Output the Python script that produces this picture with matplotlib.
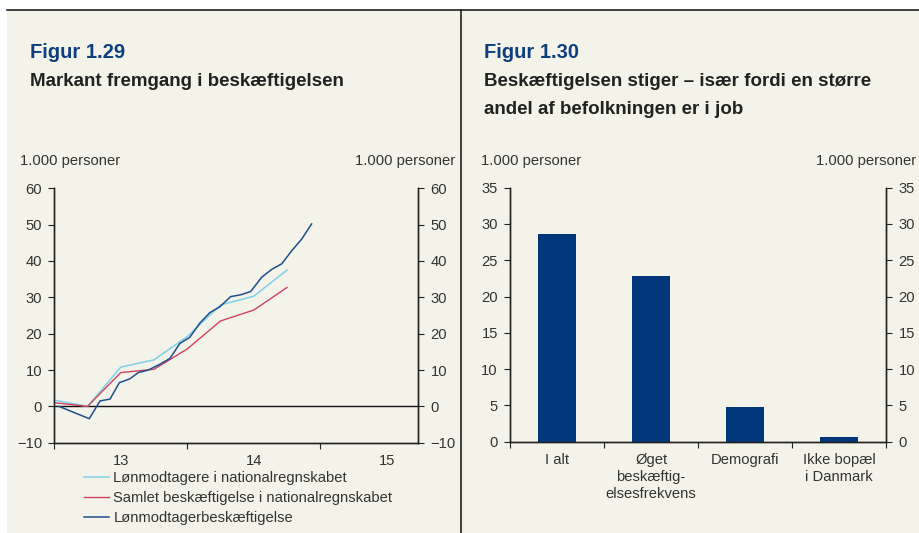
import matplotlib
matplotlib.use("Agg")
import matplotlib.pyplot as plt
from matplotlib.lines import Line2D
import matplotlib.patches as mpatches

plt.rcParams['font.family'] = ['Liberation Sans', 'DejaVu Sans']

# ---------------- Data ----------------
# Figure 1.29 (x in decimal years)
quarters = [2013.0, 2013.25, 2013.5, 2013.75, 2014.0, 2014.25, 2014.5, 2014.75]
lonmodtagere_nr = [1.7, 0.0, 10.8, 12.8, 19.2, 27.9, 30.3, 37.5]
samlet_nr = [1.0, 0.0, 9.3, 10.2, 15.8, 23.5, 26.5, 32.7]
monthly_x = [2013.035, 2013.263, 2013.344, 2013.419, 2013.489, 2013.569, 2013.632,
             2013.707, 2013.789, 2013.870, 2013.944, 2014.019, 2014.094, 2014.170,
             2014.245, 2014.326, 2014.402, 2014.477, 2014.559, 2014.635, 2014.710,
             2014.785, 2014.860, 2014.935]
lonmodtagerbesk = [0.0, -3.4, 1.5, 2.0, 6.5, 7.6, 9.3, 10.0, 11.5, 13.2, 17.3, 19.0,
                   22.9, 25.8, 27.4, 30.2, 30.7, 31.6, 35.5, 37.7, 39.2, 42.8, 46.0, 50.2]
year_labels = ["13", "14", "15"]
series_labels = ["Lønmodtagere i nationalregnskabet",
                 "Samlet beskæftigelse i nationalregnskabet",
                 "Lønmodtagerbeskæftigelse"]

# Figure 1.30
categories = ["I alt", "Øget\nbeskæftig-\nelsesfrekvens", "Demografi", "Ikke bopæl\ni Danmark"]
bar_values = [28.6, 22.9, 4.8, 0.6]

# ---------------- Styles ----------------
BG = "#f4f3e9"
C_LIGHT = "#7fcfea"
C_RED = "#d0435c"
C_DARK = "#1f4f8f"
C_BAR = "#00367a"
C_FIG = "#0d3f80"
TXT = "#333333"
FS = 10.6

fig = plt.figure(figsize=(9.2, 5.33), dpi=100)
fig.patch.set_facecolor("white")

# cream background panel and frame lines
fig.patches.append(mpatches.Rectangle((7 / 920, 0), 1, 1 - 10 / 533, transform=fig.transFigure,
                                      facecolor=BG, edgecolor="none", zorder=-10))
fig.add_artist(Line2D([7 / 920, 1], [1 - 10 / 533, 1 - 10 / 533], color="#222222", lw=1.2,
                      transform=fig.transFigure))
fig.add_artist(Line2D([461 / 920, 461 / 920], [0, 1 - 10 / 533], color="#222222", lw=1.2,
                      transform=fig.transFigure))

title_font = ['Liberation Sans Narrow', 'Liberation Sans']
fig.text(30 / 920, 1 - 52 / 533, "Figur 1.29", color=C_FIG, fontsize=14.5, fontweight="bold",
         family=title_font, va="center", ha="left")
fig.text(30 / 920, 1 - 82 / 533, "Markant fremgang i beskæftigelsen", color="#222222",
         fontsize=13.5, fontweight="bold", family=title_font, va="center", ha="left")
fig.text(484 / 920, 1 - 52 / 533, "Figur 1.30", color=C_FIG, fontsize=14.5, fontweight="bold",
         family=title_font, va="center", ha="left")
fig.text(484 / 920, 1 - 82 / 533, "Beskæftigelsen stiger – især fordi en større", color="#222222",
         fontsize=13.5, fontweight="bold", family=title_font, va="center", ha="left")
fig.text(484 / 920, 1 - 110 / 533, "andel af befolkningen er i job", color="#222222",
         fontsize=13.5, fontweight="bold", family=title_font, va="center", ha="left")

# unit labels
for x, ha in [(20, "left"), (455, "right"), (481, "left"), (916, "right")]:
    fig.text(x / 920, 1 - 161 / 533, "1.000 personer", color=TXT, fontsize=FS, ha=ha, va="center")


def style_axes(ax):
    ax.set_facecolor("none")
    ax.spines["top"].set_visible(False)
    for s in ["left", "right", "bottom"]:
        ax.spines[s].set_color("#222222")
        ax.spines[s].set_linewidth(1.0)
    ax.tick_params(axis="both", which="major", colors="#222222", labelcolor=TXT,
                   labelsize=FS, length=4, width=0.8, direction="out")


# ---------------- Left chart ----------------
ax1 = fig.add_axes([54.3 / 920, 1 - 442.7 / 533, (418 - 54.3) / 920, 254.4 / 533])
style_axes(ax1)
ax1.plot(quarters, lonmodtagere_nr, color=C_LIGHT, lw=1.1, label=series_labels[0], zorder=3)
ax1.plot(quarters, samlet_nr, color=C_RED, lw=1.0, label=series_labels[1], zorder=3)
ax1.plot(monthly_x, lonmodtagerbesk, color=C_DARK, lw=1.1, label=series_labels[2], zorder=4)
ax1.axhline(0, color="#111111", lw=1.0, zorder=2)
ax1.set_ylim(-10, 60)
ax1.set_yticks(range(-10, 61, 10))
ax1.set_xlim(2013.0, 2015.735)
ax1.set_xticks([2013, 2014, 2015])
ax1.set_xticklabels([])
ax1.set_xticks([2013.5, 2014.5, 2015.5], minor=True)
ax1.set_xticklabels(year_labels, minor=True)
ax1.tick_params(axis="x", which="minor", length=0, labelsize=FS, labelcolor=TXT, pad=8)
ax1r = ax1.twinx()
ax1r.set_ylim(ax1.get_ylim())
ax1r.set_yticks(range(-10, 61, 10))
style_axes(ax1r)
ax1.tick_params(axis="y", pad=4.7)
ax1r.tick_params(axis="y", pad=5)

fig.legend(handles=ax1.get_lines()[:3], labels=series_labels, loc="upper left",
           bbox_to_anchor=(84 / 920, 1 - 471 / 533), frameon=False, fontsize=FS,
           handlelength=1.7, handletextpad=0.3, labelspacing=0.42, borderpad=0,
           borderaxespad=0, labelcolor=TXT)

# ---------------- Right chart ----------------
ax2 = fig.add_axes([510 / 920, 1 - 441.7 / 533, (886 - 510) / 920, 254 / 533])
style_axes(ax2)
xs = list(range(len(categories)))
ax2.bar(xs, bar_values, width=0.4, color=C_BAR, edgecolor="none", zorder=3)
ax2.set_ylim(0, 35)
ax2.set_yticks(range(0, 36, 5))
ax2.set_xlim(-0.5, len(categories) - 0.5)
ax2.set_xticks([i - 0.5 for i in range(len(categories) + 1)])
ax2.set_xticklabels([])
ax2.set_xticks(xs, minor=True)
ax2.set_xticklabels(categories, minor=True, linespacing=1.3)
ax2.tick_params(axis="x", which="minor", length=0, labelsize=FS, labelcolor=TXT, pad=8)
ax2r = ax2.twinx()
ax2r.set_ylim(ax2.get_ylim())
ax2r.set_yticks(range(0, 36, 5))
style_axes(ax2r)
ax2.tick_params(axis="y", pad=4.7)
ax2r.tick_params(axis="y", pad=5)

fig.savefig("out.png", dpi=100, facecolor=fig.get_facecolor())
